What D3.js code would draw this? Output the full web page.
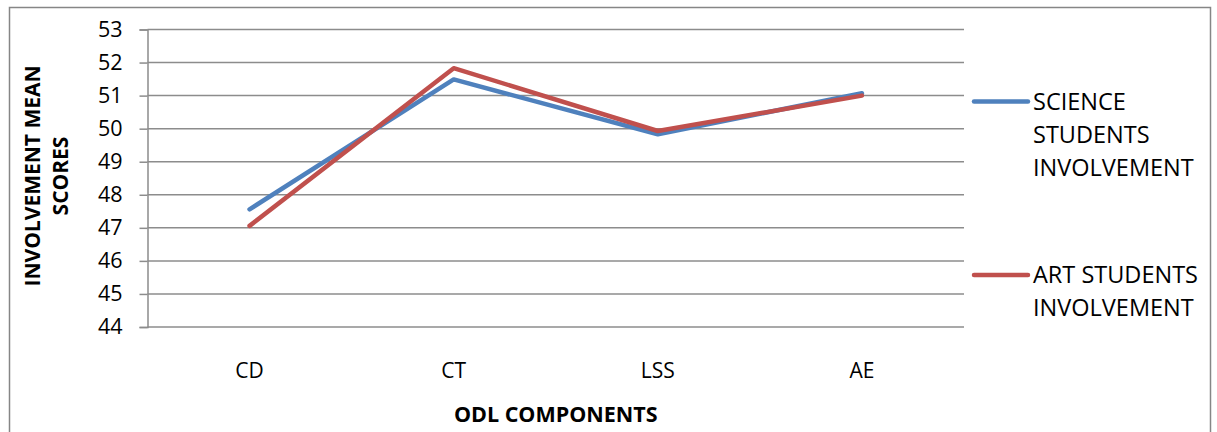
<!DOCTYPE html>
<html>
<head>
<meta charset="utf-8">
<script src="https://cdn.jsdelivr.net/npm/d3@7"></script>
<style>
  body { margin: 0; background: #fff; }
  svg text { font-family: "Open Sans", Lato, sans-serif; fill: #000; }
</style>
</head>
<body>
<div id="chart"></div>
<script>
(function(){

var categories = ["CD", "CT", "LSS", "AE"];
var scienceValues = [47.56, 51.49, 49.83, 51.07];
var artValues = [47.06, 51.83, 49.93, 51.0];
var yTicks = [44, 45, 46, 47, 48, 49, 50, 51, 52, 53];
var seriesNames = [["SCIENCE", "STUDENTS", "INVOLVEMENT"], ["ART STUDENTS", "INVOLVEMENT"]];

var W = 1217, H = 432;
var margin = {top: 29.5, left: 147.5, right: 253, bottom: 105};
var width = W - margin.left - margin.right,
    height = H - margin.top - margin.bottom;

var svg = d3.select("#chart")
  .append("svg")
    .attr("width", W)
    .attr("height", H);

// outer chart border
svg.append("rect")
  .attr("x", 9.5).attr("y", 7.5)
  .attr("width", W - 16).attr("height", H + 20)
  .attr("fill", "none")
  .attr("stroke", "#868686")
  .attr("stroke-width", 1.5);

var g = svg.append("g")
  .attr("transform", "translate(" + margin.left + "," + margin.top + ")");

var x = d3.scalePoint()
  .domain(categories)
  .range([0, width])
  .padding(0.5);

var y = d3.scaleLinear()
  .domain([44, 53])
  .range([height, 0]);

// gridlines
g.selectAll("line.grid")
  .data(yTicks)
  .enter()
  .append("line")
    .attr("class", "grid")
    .attr("x1", 0).attr("x2", width)
    .attr("y1", function(d) { return y(d); })
    .attr("y2", function(d) { return y(d); })
    .attr("stroke", "#8c8c8c")
    .attr("stroke-width", 1.5);

// y axis
var yAxis = g.append("g")
  .call(d3.axisLeft(y).tickValues(yTicks).tickSize(8).tickPadding(17).tickFormat(d3.format("d")));
yAxis.select(".domain").attr("stroke", "#8c8c8c").attr("stroke-width", 1.5);
yAxis.selectAll(".tick line").attr("stroke", "#8c8c8c").attr("stroke-width", 1.5);
yAxis.selectAll(".tick text")
  .attr("font-size", "21.5px")
  .attr("font-family", "'Open Sans', sans-serif")
  .attr("fill", "#000");

// x labels
g.selectAll("text.xlab")
  .data(categories)
  .enter()
  .append("text")
    .attr("class", "xlab")
    .attr("x", function(d) { return x(d); })
    .attr("y", 378 - margin.top)
    .attr("text-anchor", "middle")
    .attr("font-size", "21px")
    .text(function(d) { return d; });

// lines
var line = d3.line()
  .x(function(d, i) { return x(categories[i]); })
  .y(function(d) { return y(d); });

var series = [
  {values: scienceValues, color: "#4f81bd"},
  {values: artValues, color: "#c0504d"}
];

series.forEach(function(s) {
  g.append("path")
    .datum(s.values)
    .attr("d", line)
    .attr("fill", "none")
    .attr("stroke", s.color)
    .attr("stroke-width", 4.5)
    .attr("stroke-linecap", "round")
    .attr("stroke-linejoin", "round");
});

// axis titles
svg.append("text")
  .attr("x", margin.left + width / 2)
  .attr("y", 422)
  .attr("text-anchor", "middle")
  .attr("font-size", "21.5px")
  .attr("font-weight", "bold")
  .text("ODL COMPONENTS");

var yt = svg.append("text")
  .attr("transform", "translate(40,176) rotate(-90)")
  .attr("text-anchor", "middle")
  .attr("font-size", "21px")
  .attr("font-weight", "bold");
yt.append("tspan").attr("x", 0).attr("dy", 0).text("INVOLVEMENT MEAN");
yt.append("tspan").attr("x", 0).attr("dy", 28).text("SCORES");

// legend
var legendY = [101.5, 275];
seriesNames.forEach(function(names, i) {
  var lg = svg.append("g").attr("transform", "translate(974," + legendY[i] + ")");
  lg.append("line")
    .attr("x1", 0).attr("x2", 54)
    .attr("y1", 0).attr("y2", 0)
    .attr("stroke", series[i].color)
    .attr("stroke-width", 4.5)
    .attr("stroke-linecap", "round");
  var t = lg.append("text")
    .attr("x", 59)
    .attr("y", 8)
    .attr("font-size", "23.5px");
  names.forEach(function(n, j) {
    t.append("tspan").attr("x", 59).attr("dy", j === 0 ? 0 : 33).text(n);
  });
});

})();
</script>
</body>
</html>
